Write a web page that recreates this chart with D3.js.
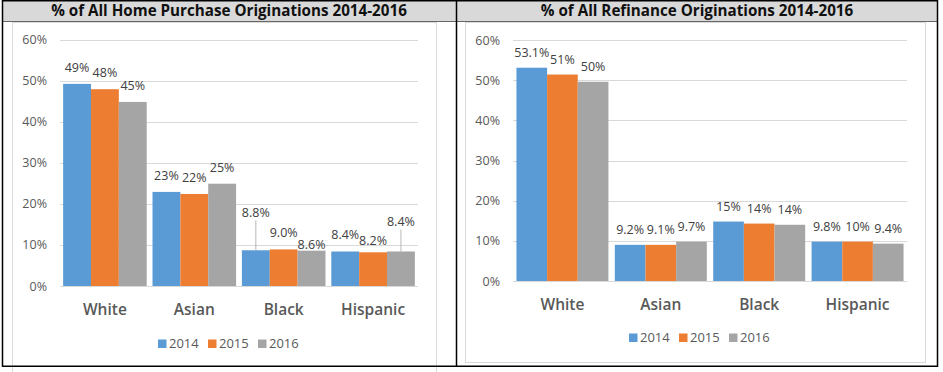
<!DOCTYPE html>
<html>
<head>
<meta charset="utf-8">
<script src="https://cdn.jsdelivr.net/npm/d3@7"></script>
<style>
  body { margin: 0; background: #fff; }
  svg { display: block; font-family: 'Open Sans', sans-serif; }
</style>
</head>
<body>
<svg id="chart" width="943" height="372"></svg>
<script>
const years = ['2014', '2015', '2016'];
const categories = ['White', 'Asian', 'Black', 'Hispanic'];
const colors = ['#5b9bd5', '#ed7d31', '#a5a5a5'];
const yTicks = [0, 10, 20, 30, 40, 50, 60];

// home purchase, per category: 2014, 2015, 2016
const purchaseValues = [[49.2, 47.9, 44.8], [22.9, 22.4, 24.9], [8.7, 8.9, 8.6], [8.4, 8.2, 8.4]];
const purchaseLabels = [['49%', '48%', '45%'], ['23%', '22%', '25%'], ['8.8%', '9.0%', '8.6%'], ['8.4%', '8.2%', '8.4%']];
// refinance
const refiValues = [[53.1, 51.4, 49.6], [9.0, 9.0, 9.8], [14.8, 14.3, 14.0], [9.8, 9.8, 9.3]];
const refiLabels = [['53.1%', '51%', '50%'], ['9.2%', '9.1%', '9.7%'], ['15%', '14%', '14%'], ['9.8%', '10%', '9.4%']];

// labels that were dragged around in the original (extra px upwards), leader line if far
const purchaseNudge = [[0, 0, 0], [0, 0, 0], [21, 0, -10], [0, -5, 13]];
const refiNudge = [[0, 0, 0], [0, 0, 0], [0, 0, 0], [0, 0, 0]];

const svg = d3.select('#chart');

//frame and headers
svg.append('rect').attr('x', 3).attr('y', 1).attr('width', 934).attr('height', 20).attr('fill', '#d9d9d9');
svg.append('line').attr('x1', 3).attr('x2', 937).attr('y1', 21.5).attr('y2', 21.5).attr('stroke', '#000').attr('stroke-width', 0.6);
svg.append('rect').attr('x', 12.5).attr('y', 22.5).attr('width', 424).attr('height', 350).attr('fill', 'none').attr('stroke', '#d9d9d9');
svg.append('rect').attr('x', 465.5).attr('y', 22.5).attr('width', 460).attr('height', 340).attr('fill', 'none').attr('stroke', '#d9d9d9');
svg.append('rect').attr('x', 2.5).attr('y', 0.75).attr('width', 935).attr('height', 365.5)
    .attr('fill', 'none').attr('stroke', '#000').attr('stroke-width', 1.5);
svg.append('line').attr('x1', 456.5).attr('x2', 456.5).attr('y1', 0).attr('y2', 367).attr('stroke', '#000').attr('stroke-width', 1.5);

function drawPanel(opt){
    const g = svg.append('g');

    g.append('text')
        .attr('x', opt.titleX).attr('y', 16)
        .attr('text-anchor', 'middle')
        .style('font-size', '15.2px').style('font-weight', 700).style('fill', '#111')
        .text(opt.title);

    const x = d3.scaleBand().domain(categories).range(opt.xRange)
        .paddingInner(0.065).paddingOuter(0.035);
    const xs = d3.scaleBand().domain(years).range([0, x.bandwidth()]);
    const y = d3.scaleLinear().domain([0, 60]).range(opt.yRange);

    //gridlines
    g.selectAll('.grid').data(yTicks).enter().append('line')
        .attr('x1', opt.xRange[0]).attr('x2', opt.xRange[1])
        .attr('y1', d => Math.round(y(d)) + 0.5).attr('y2', d => Math.round(y(d)) + 0.5)
        .attr('stroke', '#d9d9d9').attr('stroke-width', 1);

    g.selectAll('.ytick').data(yTicks).enter().append('text')
        .attr('x', opt.yLabelX).attr('y', d => y(d) + 4.5)
        .attr('text-anchor', 'end')
        .style('font-size', '12.5px').style('fill', '#595959')
        .text(d => d + '%');

    const groups = g.selectAll('.cat').data(opt.values).enter().append('g')
        .attr('transform', (d, i) => 'translate(' + x(categories[i]) + ',0)');

    groups.selectAll('rect').data(d => d).enter().append('rect')
        .attr('x', (d, j) => xs(years[j]))
        .attr('width', xs.bandwidth())
        .attr('y', d => y(d))
        .attr('height', d => y(0) - y(d))
        .attr('fill', (d, j) => colors[j]);

    //data labels
    groups.each(function(vals, i){
        const grp = d3.select(this);
        vals.forEach(function(v, j){
            const cx = xs(years[j]) + xs.bandwidth() / 2;
            const lift = opt.nudge[i][j];
            const base = y(v) - opt.labelGap - lift;
            if (lift > 10){
                grp.append('line')
                    .attr('x1', cx).attr('x2', cx)
                    .attr('y1', base + 3).attr('y2', y(v))
                    .attr('stroke', '#a6a6a6').attr('stroke-width', 0.8);
            }
            grp.append('text')
                .attr('x', cx).attr('y', base)
                .attr('text-anchor', 'middle')
                .style('font-size', '12.5px').style('fill', '#404040')
                .text(opt.labels[i][j]);
        });
    });

    g.selectAll('.cname').data(categories).enter().append('text')
        .attr('x', d => x(d) + x.bandwidth() / 2)
        .attr('y', opt.catY)
        .attr('text-anchor', 'middle')
        .style('font-size', '15.5px').style('font-weight', 600).style('fill', '#595959')
        .text(d => d);

    //legend
    const leg = g.selectAll('.leg').data(years).enter().append('g')
        .attr('transform', (d, i) => 'translate(' + (opt.legendX + i * 50) + ',' + opt.legendY + ')');
    leg.append('rect').attr('x', 0).attr('y', -8.5).attr('width', 8.5).attr('height', 8.5)
        .attr('fill', (d, i) => colors[i]);
    leg.append('text').attr('x', 11).attr('y', 0)
        .style('font-size', '13px').style('fill', '#595959')
        .text(d => d);
}

drawPanel({
    title: '% of All Home Purchase Originations 2014-2016',
    titleX: 229,
    xRange: [60, 418],
    yRange: [286, 39.5],
    yLabelX: 47,
    values: purchaseValues,
    labels: purchaseLabels,
    nudge: purchaseNudge,
    labelGap: 12,
    catY: 315,
    legendX: 158,
    legendY: 348
});

drawPanel({
    title: '% of All Refinance Originations 2014-2016',
    titleX: 697,
    xRange: [513, 907],
    yRange: [281, 40],
    yLabelX: 500,
    values: refiValues,
    labels: refiLabels,
    nudge: refiNudge,
    labelGap: 11,
    catY: 310,
    legendX: 629,
    legendY: 342
});
</script>
</body>
</html>
